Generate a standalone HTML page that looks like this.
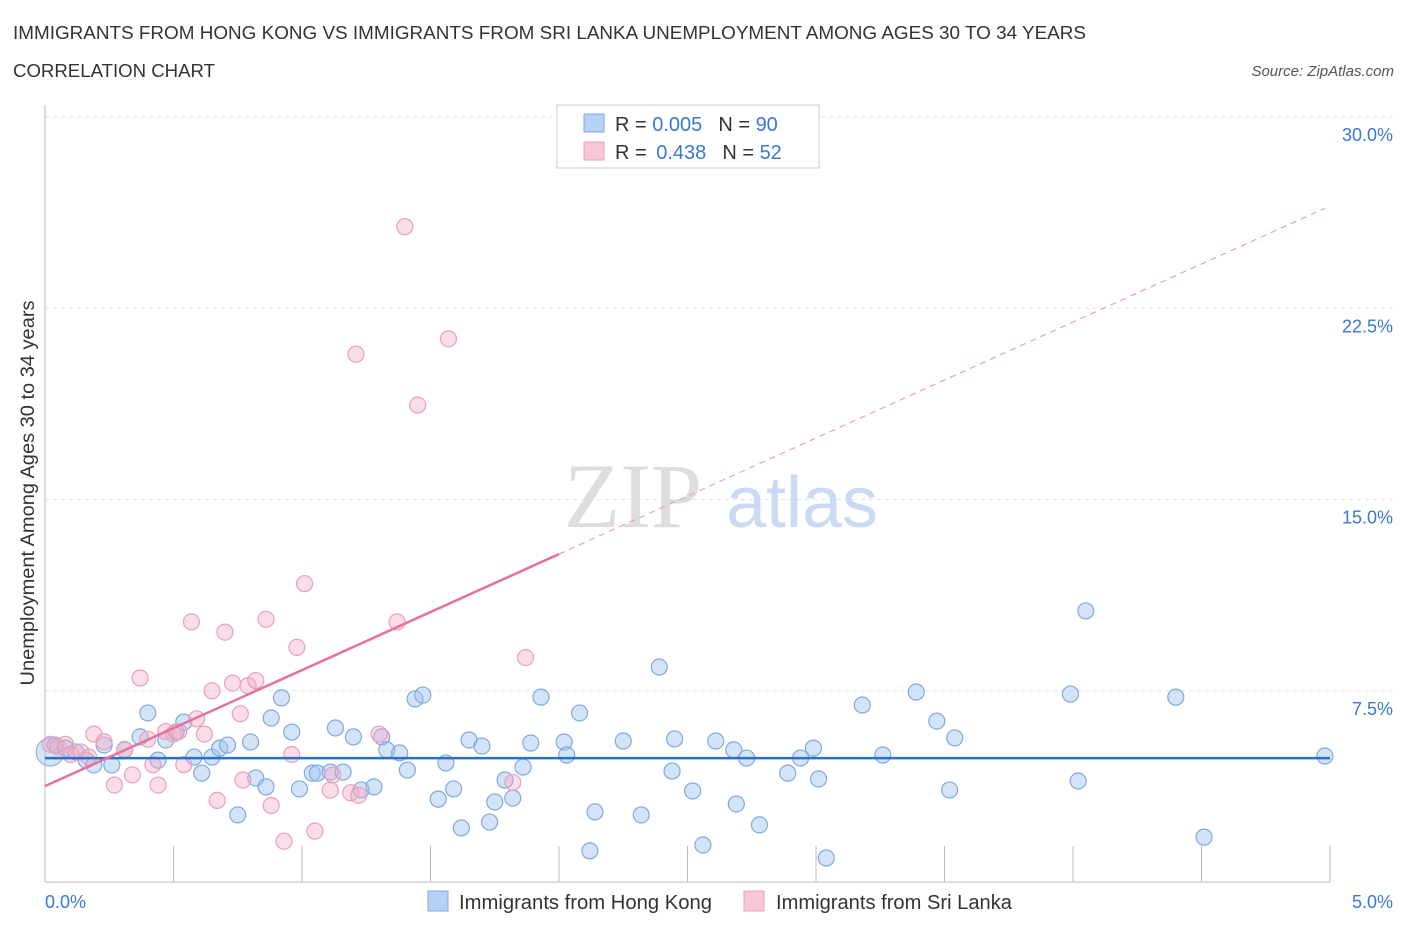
<!DOCTYPE html>
<html><head><meta charset="utf-8"><style>
body{margin:0;background:#fff;font-family:"Liberation Sans",sans-serif}
svg{display:block}
</style></head><body>
<svg id="chart" width="1406" height="930" xmlns="http://www.w3.org/2000/svg">
<text x="13" y="39" font-size="18" fill="#333" textLength="1073" lengthAdjust="spacingAndGlyphs">IMMIGRANTS FROM HONG KONG VS IMMIGRANTS FROM SRI LANKA UNEMPLOYMENT AMONG AGES 30 TO 34 YEARS</text>
<text x="13" y="77" font-size="18" fill="#333" textLength="202" lengthAdjust="spacingAndGlyphs">CORRELATION CHART</text>
<text x="1394" y="76" font-size="15" fill="#555" font-style="italic" text-anchor="end">Source: ZipAtlas.com</text>
<g id="grid"></g>
<g>
<text x="633" y="527" font-size="92" fill="#ddd" font-family="Liberation Serif,serif" text-anchor="middle">ZIP</text>
<text x="802" y="527" font-size="72" fill="#c9daf2" text-anchor="middle">atlas</text>
</g>
<g id="pts"></g>
<g id="lines"></g>
<text x="34" y="493" font-size="19" fill="#333" transform="rotate(-90 34 493)" text-anchor="middle" textLength="385" lengthAdjust="spacingAndGlyphs">Unemployment Among Ages 30 to 34 years</text>
<text x="45" y="908" font-size="18" fill="#3a78d4">0.0%</text>
<text x="1393" y="908" font-size="18" fill="#3a78d4" text-anchor="end">5.0%</text>
<g>
<rect x="557" y="105" width="262" height="63" fill="#fff" stroke="#ccc"/>
<rect x="584" y="114" width="20" height="18" fill="#b7d0f5" stroke="#7fa9e0"/>
<rect x="584" y="142" width="20" height="18" fill="#f8c6d6" stroke="#eaa0b8"/>
<text x="615" y="131" font-size="20" fill="#333">R = <tspan fill="#3a78d4">0.005</tspan><tspan dx="16">N = </tspan><tspan fill="#3a78d4">90</tspan></text>
<text x="615" y="159" font-size="20" fill="#333">R = <tspan dx="4" fill="#3a78d4">0.438</tspan><tspan dx="16">N = </tspan><tspan fill="#3a78d4">52</tspan></text>
</g>
<g>
<rect x="428" y="891" width="20" height="20" fill="#b7d0f5" stroke="#7fa9e0"/>
<text x="459" y="909" font-size="20" fill="#333" textLength="253" lengthAdjust="spacingAndGlyphs">Immigrants from Hong Kong</text>
<rect x="744" y="891" width="20" height="20" fill="#f8c6d6" stroke="#eaa0b8"/>
<text x="776" y="909" font-size="20" fill="#333" textLength="236" lengthAdjust="spacingAndGlyphs">Immigrants from Sri Lanka</text>
</g>
</svg>
<script>
const yTicks=[7.5,15,22.5,30];
const yTickLabels=["7.5%","15.0%","22.5%","30.0%"];
const xTicks=[0,0.5,1,1.5,2,2.5,3,3.5,4,4.5,5];
const hkX=[0.04,0.08,0.12,0.16,0.19,0.23,0.26,0.31,0.37,0.40,0.44,0.47,0.51,0.54,0.58,0.61,0.65,0.68,0.71,0.75,0.80,0.82,0.86,0.88,0.92,0.96,0.99,1.04,1.06,1.11,1.13,1.16,1.20,1.23,1.28,1.31,1.33,1.38,1.41,1.44,1.47,1.53,1.56,1.59,1.62,1.65,1.70,1.73,1.75,1.79,1.82,1.86,1.89,1.93,2.02,2.03,2.08,2.12,2.14,2.25,2.32,2.39,2.44,2.45,2.52,2.56,2.61,2.68,2.69,2.73,2.78,2.89,2.94,2.99,3.01,3.04,3.18,3.26,3.39,3.47,3.52,3.54,3.99,4.02,4.05,4.40,4.51,4.98];
const hkY=[5.37,5.25,5.10,4.78,4.59,5.37,4.59,5.18,5.69,6.63,4.78,5.57,5.88,6.27,4.90,4.27,4.90,5.25,5.37,2.63,5.49,4.08,3.73,6.43,7.22,5.88,3.65,4.27,4.27,4.31,6.04,4.31,5.69,3.61,3.73,5.69,5.18,5.06,4.39,7.18,7.33,3.25,4.67,3.65,2.12,5.57,5.33,2.35,3.14,4.00,3.29,4.51,5.45,7.25,5.49,4.98,6.63,1.22,2.75,5.53,2.63,8.43,4.35,5.61,3.57,1.45,5.53,5.18,3.06,4.86,2.24,4.27,4.86,5.25,4.04,0.94,6.94,4.98,7.45,6.31,3.61,5.65,7.37,3.96,10.63,7.25,1.76,4.94];
const slX=[0.02,0.05,0.08,0.10,0.14,0.17,0.19,0.23,0.27,0.31,0.34,0.37,0.40,0.42,0.44,0.47,0.50,0.52,0.54,0.57,0.59,0.62,0.65,0.67,0.70,0.73,0.76,0.77,0.79,0.82,0.86,0.88,0.93,0.96,0.98,1.01,1.05,1.11,1.12,1.19,1.21,1.22,1.30,1.37,1.40,1.45,1.57,1.82,1.87];
const slY=[5.4,5.3,5.4,5.0,5.1,4.9,5.8,5.5,3.8,5.2,4.2,8.0,5.6,4.6,3.8,5.9,5.8,5.9,4.6,10.2,6.4,5.8,7.5,3.2,9.8,7.8,6.6,4.0,7.7,7.9,10.3,3.0,1.6,5.0,9.2,11.7,2.0,3.6,4.2,3.5,20.7,3.4,5.8,10.2,25.7,18.7,21.3,3.9,8.8];
const hkIntercept=4.86, hkSlope=0.0;
const slIntercept=3.76, slSlope=4.55;

const NS="http://www.w3.org/2000/svg";
const X=v=>45+v*257, Y=v=>882-v*25.5;
function mk(tag,attrs,parent){const e=document.createElementNS(NS,tag);for(const k in attrs)e.setAttribute(k,attrs[k]);parent.appendChild(e);return e;}
const grid=document.getElementById('grid');
yTicks.forEach((t,i)=>{
  const l=mk('line',{x1:45,x2:1393,y1:Y(t),y2:Y(t),stroke:'#e2e2e2','stroke-dasharray':'4,4'},grid);
  
  
  const tx=mk('text',{x:1393,y:Y(t)+24,'font-size':18,fill:'#3a78d4','text-anchor':'end'},grid);
  tx.textContent=yTickLabels[i];
  
  
});
const ax=mk('line',{x1:45,x2:45,y1:105,y2:882,stroke:'#bbb'},grid);


const bx=mk('line',{x1:45,x2:1330,y1:882,y2:882,stroke:'#bbb'},grid);


xTicks.forEach(t=>{
  const l=mk('line',{x1:X(t),x2:X(t),y1:846,y2:882,stroke:'#bbb'},grid);
  
  
});
const pts=document.getElementById('pts');
const big=mk('circle',{cx:X(0.02),cy:Y(5.1),r:14,fill:'rgba(160,195,240,0.45)',stroke:'#7fa9e0'},pts);


hkX.forEach((x,i)=>{
  const c=mk('circle',{cx:X(x),cy:Y(hkY[i]),r:8,fill:'rgba(160,195,240,0.45)',stroke:'#7fa9e0','stroke-width':1.2},pts);
  
  
});
slX.forEach((x,i)=>{
  const c=mk('circle',{cx:X(x),cy:Y(slY[i]),r:8,fill:'rgba(245,170,195,0.4)',stroke:'#eaa0b8','stroke-width':1.2},pts);
  
  
});
const lines=document.getElementById('lines');
const b=mk('line',{x1:X(0),x2:X(5),y1:Y(hkIntercept),y2:Y(hkIntercept+hkSlope*5),stroke:'#2a6fca','stroke-width':2.5},lines);


const p=mk('line',{x1:X(0),x2:X(2),y1:Y(slIntercept),y2:Y(slIntercept+slSlope*2),stroke:'#e8709a','stroke-width':2.5},lines);


const pd=mk('line',{x1:X(2),x2:X(4.98),y1:Y(slIntercept+slSlope*2),y2:Y(slIntercept+slSlope*4.98),stroke:'#eaa0b8','stroke-width':1.2,'stroke-dasharray':'6,5'},lines);


</script>
</body></html>
